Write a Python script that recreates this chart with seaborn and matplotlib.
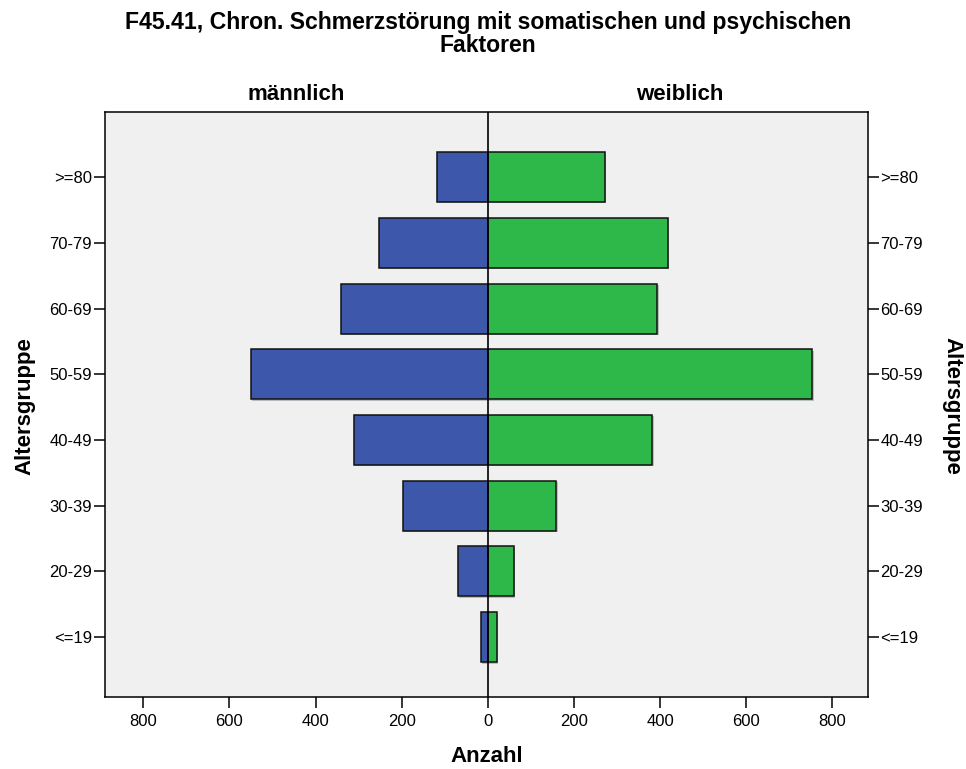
import matplotlib
matplotlib.use("Agg")
import matplotlib.pyplot as plt
import matplotlib.patheffects as pe
import numpy as np
import pandas as pd
import seaborn as sns

# ---- data ----
age_groups = [">=80", "70-79", "60-69", "50-59", "40-49", "30-39", "20-29", "<=19"]
male = [117, 252, 341, 550, 310, 198, 70, 16]
female = [272, 418, 394, 754, 382, 159, 61, 21]
sexes = ["männlich", "weiblich"]
x_ticks = [-800, -600, -400, -200, 0, 200, 400, 600, 800]
title = "F45.41, Chron. Schmerzstörung mit somatischen und psychischen\nFaktoren"

df = pd.DataFrame({
    "Altersgruppe": age_groups * 2,
    "Geschlecht": [sexes[0]] * len(age_groups) + [sexes[1]] * len(age_groups),
    "Anzahl": [-v for v in male] + female,
})

sns.set_style("white")
plt.rcParams["font.family"] = ["Liberation Sans", "DejaVu Sans"]
plt.rcParams["text.color"] = "black"
plt.rcParams["xtick.color"] = "black"
plt.rcParams["ytick.color"] = "black"

W, H = 966, 769
fig = plt.figure(figsize=(W / 100, H / 100), dpi=100)
ax = fig.add_axes([105 / W, 1 - 697 / H, (868 - 105) / W, (697 - 112) / H])
ax.set_facecolor("#F0F0F0")

sns.barplot(data=df, y="Altersgruppe", x="Anzahl", hue="Geschlecht", order=age_groups,
            hue_order=sexes, palette={"männlich": "#3D58AB", "weiblich": "#2EB84A"},
            saturation=1, dodge=False, orient="h", width=0.76, edgecolor="#111111",
            linewidth=1.1, legend=False, ax=ax)
for p in ax.patches:
    p.set_path_effects([pe.SimplePatchShadow(offset=(1.0, -1.0), alpha=0.25), pe.Normal()])

ax.axvline(0, color="black", lw=1.2, zorder=5)
ax.set_xlim(-889, 883)
ax.set_ylim(7.91, -0.99)
ax.set_xticks(x_ticks)
ax.set_xticklabels([str(abs(t)) for t in x_ticks])
ax.set_yticks(range(len(age_groups)))
ax.set_yticklabels(age_groups)
ax.tick_params(axis="x", direction="out", length=8, width=1.1, labelsize=12, pad=4, bottom=True)
ax.tick_params(axis="y", direction="out", length=8, width=1.1, labelsize=12, pad=1.5, left=True)
ax.set_xlabel("")
ax.set_ylabel("")
for s in ax.spines.values():
    s.set_color("black")
    s.set_linewidth(1.1)
    s.set_visible(True)

ax2 = ax.twinx()
ax2.set_ylim(ax.get_ylim())
ax2.set_yticks(range(len(age_groups)))
ax2.set_yticklabels(age_groups)
ax2.tick_params(axis="y", direction="out", length=8, width=1.1, labelsize=12, pad=1, right=True)
for s in ax2.spines.values():
    s.set_visible(False)

fig.text(488 / W, 1 - 34 / H, title, ha="center", va="center",
         fontsize=16.6, fontweight="bold", linespacing=1.0)
fig.text(296 / W, 1 - 95 / H, sexes[0], ha="center", va="center", fontsize=16, fontweight="bold")
fig.text(680 / W, 1 - 95 / H, sexes[1], ha="center", va="center", fontsize=16, fontweight="bold")
fig.text(487 / W, 1 - 756 / H, "Anzahl", ha="center", va="center", fontsize=16, fontweight="bold")
fig.text(25 / W, 1 - 406 / H, "Altersgruppe", ha="center", va="center", rotation=90,
         fontsize=16, fontweight="bold")
fig.text(952 / W, 1 - 406 / H, "Altersgruppe", ha="center", va="center", rotation=-90,
         fontsize=16, fontweight="bold")

fig.savefig("out.png", dpi=100, facecolor="white")
